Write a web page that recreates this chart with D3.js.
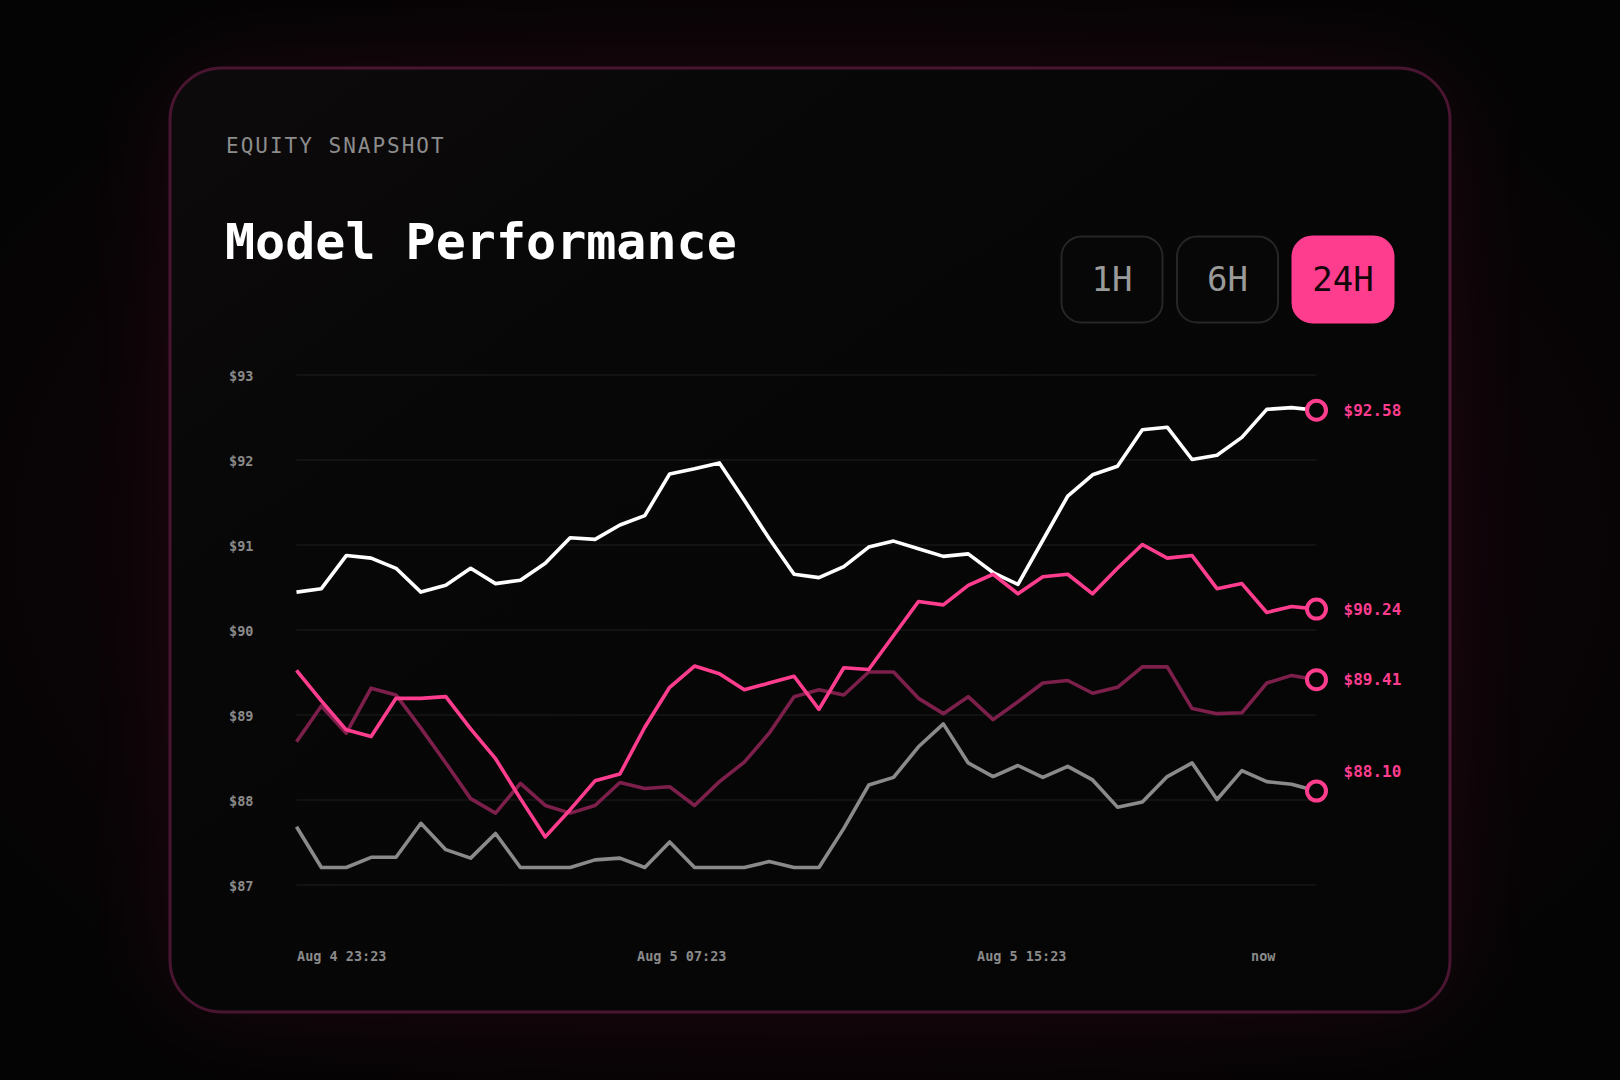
<!DOCTYPE html>
<html>
<head>
<meta charset="utf-8">
<script src="https://cdn.jsdelivr.net/npm/d3@7"></script>
<style>
  html, body { margin: 0; padding: 0; background: #050505; }
  svg { display: block; }
  text { font-family: "DejaVu Sans Mono", monospace; }
</style>
</head>
<body>
<div id="chart"></div>
<script>
// ---- data ----
const startTime = new Date(2024, 7, 4, 23, 23);
const endTime = new Date(2024, 7, 5, 23, 23);
const pointCount = 42;

const yTicks = [87, 88, 89, 90, 91, 92, 93];
const ranges = ["1H", "6H", "24H"];
const activeRange = "24H";

const whiteValues = [90.44, 90.48, 90.87, 90.84, 90.72, 90.44, 90.52, 90.72, 90.54, 90.58,
  90.78, 91.08, 91.06, 91.23, 91.34, 91.83, 91.89, 91.96, 91.52, 91.07,
  90.65, 90.61, 90.74, 90.97, 91.04, 90.95, 90.86, 90.89, 90.67, 90.53,
  91.05, 91.57, 91.82, 91.92, 92.35, 92.38, 92.00, 92.05, 92.26, 92.59,
  92.61, 92.58];
const pinkValues = [89.52, 89.16, 88.82, 88.74, 89.19, 89.19, 89.21, 88.83, 88.48, 88.01,
  87.56, 87.88, 88.22, 88.30, 88.85, 89.32, 89.57, 89.48, 89.29, 89.37,
  89.45, 89.06, 89.55, 89.53, 89.93, 90.33, 90.29, 90.52, 90.65, 90.42,
  90.62, 90.65, 90.42, 90.72, 91.00, 90.84, 90.87, 90.48, 90.54, 90.20,
  90.27, 90.24];
const maroonValues = [88.68, 89.10, 88.78, 89.31, 89.23, 88.84, 88.43, 88.01, 87.84, 88.19,
  87.93, 87.84, 87.93, 88.20, 88.13, 88.15, 87.93, 88.21, 88.44, 88.78,
  89.21, 89.29, 89.23, 89.50, 89.50, 89.19, 89.01, 89.21, 88.94, 89.15,
  89.37, 89.40, 89.25, 89.32, 89.56, 89.56, 89.07, 89.01, 89.02, 89.37,
  89.46, 89.41];
const grayValues = [87.68, 87.20, 87.20, 87.32, 87.32, 87.72, 87.41, 87.31, 87.60, 87.20,
  87.20, 87.20, 87.29, 87.31, 87.20, 87.50, 87.20, 87.20, 87.20, 87.27,
  87.20, 87.20, 87.66, 88.17, 88.26, 88.62, 88.89, 88.43, 88.27, 88.40,
  88.26, 88.39, 88.23, 87.91, 87.97, 88.27, 88.43, 88.00, 88.34, 88.21,
  88.18, 88.10];

// draw order + style (labelDy nudges the end label)
const series = [
  { values: grayValues, color: "#8a8a8a", labelDy: -20 },
  { values: maroonValues, color: "#7d1f4b", labelDy: 0 },
  { values: whiteValues, color: "#ffffff", labelDy: 0 },
  { values: pinkValues, color: "#ff3d8f", labelDy: 0 }
];

// ---- layout ----
const W = 1620, H = 1080;
const card = { x: 170, y: 68, w: 1280, h: 944, r: 52 };
const plot = { left: 296.5, right: 1316.5, top: 374.5, bottom: 884.5 };
const accent = "#ff3d8f";

const svg = d3.select("#chart").append("svg")
  .attr("width", W)
  .attr("height", H)
  .attr("viewBox", `0 0 ${W} ${H}`);

const defs = svg.append("defs");

const bgGrad = defs.append("radialGradient")
  .attr("id", "bg")
  .attr("cx", "50%").attr("cy", "50%").attr("r", "60%");
bgGrad.append("stop").attr("offset", "0%").attr("stop-color", "#1c0610");
bgGrad.append("stop").attr("offset", "55%").attr("stop-color", "#0e0408");
bgGrad.append("stop").attr("offset", "100%").attr("stop-color", "#040404");

const cardGrad = defs.append("linearGradient")
  .attr("id", "cardFill")
  .attr("x1", "0").attr("y1", "0").attr("x2", "1").attr("y2", "1");
cardGrad.append("stop").attr("offset", "0%").attr("stop-color", "#0d0a0b");
cardGrad.append("stop").attr("offset", "35%").attr("stop-color", "#070707");
cardGrad.append("stop").attr("offset", "100%").attr("stop-color", "#050505");

defs.append("filter")
  .attr("id", "glow")
  .attr("x", "-30%").attr("y", "-30%").attr("width", "160%").attr("height", "160%")
  .append("feGaussianBlur")
  .attr("stdDeviation", 45);

// background + glow
svg.append("rect")
  .attr("width", W).attr("height", H)
  .attr("fill", "url(#bg)");

svg.append("rect")
  .attr("x", card.x).attr("y", card.y)
  .attr("width", card.w).attr("height", card.h)
  .attr("rx", card.r)
  .attr("fill", "#ff2a7a")
  .attr("opacity", 0.08)
  .attr("filter", "url(#glow)");

// card
svg.append("rect")
  .attr("x", card.x).attr("y", card.y)
  .attr("width", card.w).attr("height", card.h)
  .attr("rx", card.r)
  .attr("fill", "url(#cardFill)")
  .attr("stroke", "#4a1530")
  .attr("stroke-width", 3);

// header
svg.append("text")
  .attr("x", 226)
  .attr("y", 153)
  .attr("fill", "#8c8c8c")
  .attr("font-size", 21)
  .attr("letter-spacing", 2)
  .text("EQUITY SNAPSHOT");

svg.append("text")
  .attr("x", 225)
  .attr("y", 259)
  .attr("fill", "#ffffff")
  .attr("font-size", 50)
  .attr("font-weight", "bold")
  .text("Model Performance");

// range buttons
const btnW = 102, btnH = 87, btnGap = 13.5;
const btnRight = 1394;
const btn = svg.append("g")
  .selectAll("g")
  .data(ranges)
  .join("g")
  .attr("transform", (d, i) =>
    `translate(${btnRight - (ranges.length - i) * btnW - (ranges.length - 1 - i) * btnGap},236)`);

btn.append("rect")
  .attr("x", 0.5).attr("y", 0.5)
  .attr("width", btnW - 1).attr("height", btnH - 1)
  .attr("rx", 20)
  .attr("fill", d => d === activeRange ? accent : "#070707")
  .attr("stroke", d => d === activeRange ? accent : "#262626")
  .attr("stroke-width", 2);

btn.append("text")
  .attr("x", btnW / 2)
  .attr("y", 55)
  .attr("text-anchor", "middle")
  .attr("font-size", 34)
  .attr("fill", d => d === activeRange ? "#14070c" : "#9a9a9a")
  .text(d => d);

// ---- scales ----
const times = d3.range(pointCount).map(i =>
  new Date(+startTime + i * (endTime - startTime) / (pointCount - 1)));

const x = d3.scaleTime()
  .domain([startTime, endTime])
  .range([plot.left, plot.right]);

const y = d3.scaleLinear()
  .domain([87, 93])
  .range([plot.bottom, plot.top]);

// grid + y labels
const yAxis = svg.append("g")
  .attr("transform", `translate(${plot.left},0)`)
  .call(d3.axisLeft(y)
    .tickValues(yTicks)
    .tickSize(-(plot.right - plot.left))
    .tickPadding(43)
    .tickFormat(d => "$" + d));

yAxis.select(".domain").remove();
yAxis.selectAll(".tick line")
  .attr("stroke", "#1f1f1f")
  .attr("stroke-width", 1.2);
yAxis.selectAll(".tick text")
  .attr("dy", "0.47em")
  .attr("fill", "#8a8a8a")
  .attr("font-size", 13.5)
  .attr("font-weight", "bold")
  .attr("font-family", "DejaVu Sans Mono, monospace");

// x labels
const xTickTimes = [startTime, d3.timeHour.offset(startTime, 8), d3.timeHour.offset(startTime, 16)];
const fmt = d3.timeFormat("%b %-d %H:%M");

const xAxis = svg.append("g")
  .attr("transform", `translate(0,${plot.bottom})`)
  .call(d3.axisBottom(x)
    .tickValues(xTickTimes)
    .tickSize(0)
    .tickPadding(0)
    .tickFormat(fmt));

xAxis.select(".domain").remove();
xAxis.selectAll(".tick text")
  .attr("text-anchor", "start")
  .attr("y", 76)
  .attr("dy", 0)
  .attr("fill", "#8a8a8a")
  .attr("font-size", 13.5)
  .attr("font-weight", "bold")
  .attr("font-family", "DejaVu Sans Mono, monospace");

svg.append("text")
  .attr("x", x(endTime) - 41)
  .attr("y", plot.bottom + 76)
  .attr("text-anchor", "end")
  .attr("fill", "#8a8a8a")
  .attr("font-size", 13.5)
  .attr("font-weight", "bold")
  .text("now");

// ---- lines ----
const line = d3.line()
  .x((d, i) => x(times[i]))
  .y(d => y(d));

svg.append("g")
  .selectAll("path")
  .data(series)
  .join("path")
  .attr("d", d => line(d.values))
  .attr("fill", "none")
  .attr("stroke", d => d.color)
  .attr("stroke-width", 3.6)
  .attr("stroke-linejoin", "round");

// end markers + value labels
const ends = svg.append("g")
  .selectAll("g")
  .data(series)
  .join("g")
  .attr("transform", d =>
    `translate(${x(times[pointCount - 1])},${y(d.values[pointCount - 1])})`);

ends.append("circle")
  .attr("r", 9.5)
  .attr("fill", "#060606")
  .attr("stroke", accent)
  .attr("stroke-width", 4);

ends.append("text")
  .attr("x", 27)
  .attr("y", d => d.labelDy)
  .attr("dy", "0.35em")
  .attr("fill", accent)
  .attr("font-size", 16)
  .attr("font-weight", "bold")
  .text(d => "$" + d.values[pointCount - 1].toFixed(2));
</script>
</body>
</html>
